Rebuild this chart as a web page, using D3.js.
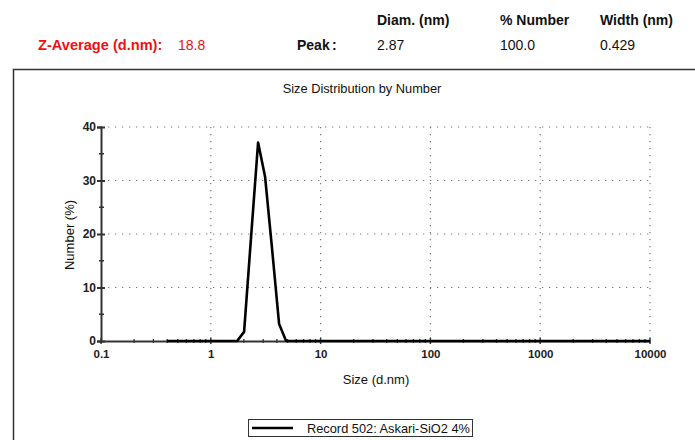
<!DOCTYPE html>
<html><head><meta charset="utf-8">
<script src="https://cdn.jsdelivr.net/npm/d3@7"></script>
<style>body{margin:0;background:#fff}svg{display:block;font-family:Arial,"Liberation Sans",sans-serif}</style>
</head><body><svg id="c" width="695" height="440"></svg>
<script>
// Data
const sizes  = [0.4, 1.736, 2.010, 2.328, 2.696, 3.122, 3.615, 4.187, 4.849, 10000];
const number = [0,   0,     1.7,   19.5,  37.1,  30.7,  17.2,  3.2,   0,     0];
const xTicks = [0.1, 1, 10, 100, 1000, 10000];
const xTickLabels = ["0.1", "1", "10", "100", "1000", "10000"];
const yTicks = [0, 10, 20, 30, 40];
const yMinor = [5, 15, 25, 35];
const headerCols = ["Diam. (nm)", "% Number", "Width (nm)"];
const peakVals = ["2.87", "100.0", "0.429"];
const zAverage = "18.8";
const title = "Size Distribution by Number";
const xLabel = "Size (d.nm)";
const yLabel = "Number (%)";
const legendLabel = "Record 502: Askari-SiO2 4%";

const svg = d3.select("#c");
const x = d3.scaleLog().domain([0.1, 10000]).range([101, 650]);
const y = d3.scaleLinear().domain([0, 40]).range([341, 127]);

// header
const hx = [377, 500, 600];
const HF = 14;
svg.selectAll(".hc").data(headerCols).join("text")
  .attr("x", (d,i)=>hx[i]).attr("y", 25).attr("font-size", HF).attr("font-weight", "bold").attr("fill","#111").text(d=>d);
svg.selectAll(".pv").data(peakVals).join("text")
  .attr("x", (d,i)=>hx[i]).attr("y", 50).attr("font-size", HF).attr("fill","#111").text(d=>d);
svg.append("text").attr("x", 38).attr("y", 50).attr("font-size", 14.6).attr("font-weight","bold")
  .attr("fill", "#f01010").text("Z-Average (d.nm):");
svg.append("text").attr("x", 178).attr("y", 50).attr("font-size", HF)
  .attr("fill", "#f01010").text(zAverage);
svg.append("text").attr("x", 297).attr("y", 50).attr("font-size", HF).attr("font-weight","bold").attr("fill","#111").text("Peak");
svg.append("text").attr("x", 332).attr("y", 50).attr("font-size", HF).attr("font-weight","bold").attr("fill","#111").text(":");

// outer frame
svg.append("rect").attr("x", 13.5).attr("y", 69.5).attr("width", 720).attr("height", 420)
  .attr("fill", "none").attr("stroke", "#333").attr("stroke-width", 1.5);

svg.append("text").attr("x", 362).attr("y", 93).attr("text-anchor","middle").attr("font-size", 12.8).attr("fill","#111").text(title);

// grid
const g = svg.append("g");
g.selectAll(".gy").data(yTicks.filter(d=>d>0)).join("line")
  .attr("x1", 101).attr("x2", 650).attr("y1", d=>y(d)).attr("y2", d=>y(d))
  .attr("stroke", "#777").attr("stroke-width", 1.2).attr("stroke-dasharray", "1.3,5.7");
g.selectAll(".gx").data(xTicks.slice(1)).join("line")
  .attr("x1", d=>x(d)).attr("x2", d=>x(d)).attr("y1", 127).attr("y2", 341)
  .attr("stroke", "#777").attr("stroke-width", 1.2).attr("stroke-dasharray", "1.3,5.7");

// y axis
const yAxis = d3.axisLeft(y).tickValues(yTicks).tickSize(4).tickFormat(d3.format("d"));
const ya = svg.append("g").attr("transform", "translate(101,0)").call(yAxis);
ya.select(".domain").attr("stroke", "#333").attr("stroke-width", 2);
ya.selectAll(".tick line").attr("stroke", "#333").attr("stroke-width", 2).attr("x2", -4).attr("x1", 4);
ya.selectAll(".tick text").attr("font-size", 12).attr("font-weight", "bold").attr("font-family", "Arial, 'Liberation Sans', sans-serif").attr("x", -5).attr("fill", "#222");
svg.selectAll(".ym").data(yMinor).join("line")
  .attr("x1", 99).attr("x2", 104).attr("y1", d=>y(d)).attr("y2", d=>y(d))
  .attr("stroke", "#333").attr("stroke-width", 1.5);

// x axis
const minor = [];
for (let e=-1; e<4; e++) for (let k=2; k<10; k++) minor.push(k*Math.pow(10,e));
const xAxis = d3.axisBottom(x).tickValues(xTicks).tickSize(0).tickFormat((d,i)=>xTickLabels[i]);
const xa = svg.append("g").attr("transform", "translate(0,341)").call(xAxis);
xa.select(".domain").attr("stroke", "#333").attr("stroke-width", 1.8);
xa.selectAll(".tick text").attr("font-size", 11.5).attr("font-weight", "bold").attr("font-family", "Arial, 'Liberation Sans', sans-serif").attr("y", 9).attr("fill", "#222");
svg.selectAll(".xm").data(minor).join("line")
  .attr("x1", d=>x(d)).attr("x2", d=>x(d)).attr("y1", 339).attr("y2", 343)
  .attr("stroke", "#333").attr("stroke-width", 1.3);
svg.selectAll(".xM").data(xTicks).join("line")
  .attr("x1", d=>x(d)).attr("x2", d=>x(d)).attr("y1", 338).attr("y2", 344)
  .attr("stroke", "#333").attr("stroke-width", 1.5);

// data line
const line = d3.line().x((d,i)=>x(sizes[i])).y(d=>y(d));
svg.append("path").datum(number).attr("d", line).attr("fill","none")
  .attr("stroke", "#000").attr("stroke-width", 2.6).attr("stroke-linejoin", "round");

// axis labels
svg.append("text").attr("x", 376).attr("y", 384).attr("text-anchor","middle").attr("font-size", 13).attr("fill","#111").text(xLabel);
svg.append("text").attr("transform", "translate(74,235) rotate(-90)").attr("text-anchor","middle").attr("font-size", 13).attr("fill","#111").text(yLabel);

// legend
svg.append("rect").attr("x", 248.5).attr("y", 419.5).attr("width", 224).attr("height", 17)
  .attr("fill", "#fff").attr("stroke", "#333").attr("stroke-width", 1);
svg.append("line").attr("x1", 252).attr("x2", 293).attr("y1", 428).attr("y2", 428).attr("stroke", "#000").attr("stroke-width", 2.6);
svg.append("text").attr("x", 307).attr("y", 432.5).attr("font-size", 12.8).attr("fill","#111").text(legendLabel);
</script></body></html>
